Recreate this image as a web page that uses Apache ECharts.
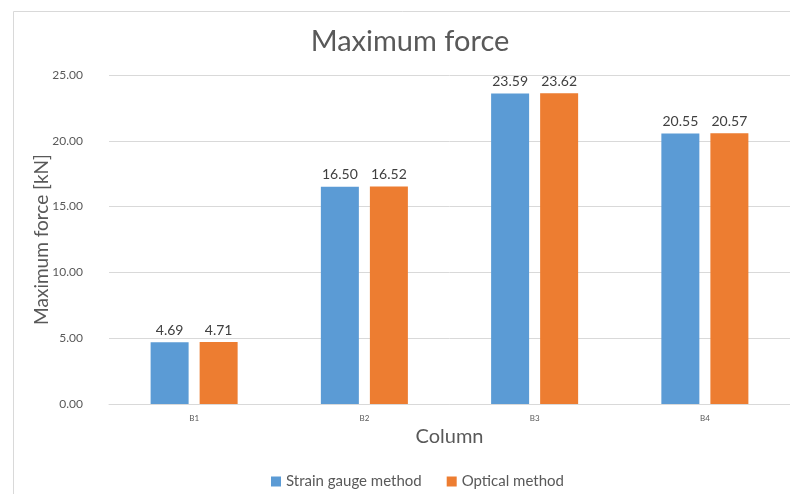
<!DOCTYPE html>
<html>
<head>
<meta charset="utf-8">
<script src="https://cdn.jsdelivr.net/npm/echarts@6/dist/echarts.min.js"></script>
<style>
  html, body { margin: 0; padding: 0; background: #fff; }
  #chart { width: 790px; height: 494px; }
</style>
</head>
<body>
<div id="chart"></div>
<script>
// Column identifiers along the x axis
const columns = ['B1', 'B2', 'B3', 'B4'];
// Maximum force per column, kN
const strainGauge = [4.69, 16.50, 23.59, 20.55];
const optical = [4.71, 16.52, 23.62, 20.57];
// Value axis ticks
const yMin = 0;
const yMax = 25;
const yStep = 5;

const FONT = 'Lato, "Open Sans", sans-serif';

const chart = echarts.init(document.getElementById('chart'));

const labelStyle = {
  show: true,
  position: 'top',
  distance: 5,
  color: '#404040',
  fontSize: 14,
  fontFamily: FONT,
  formatter: p => p.value.toFixed(2)
};

chart.setOption({
  animation: false,
  backgroundColor: '#ffffff',
  graphic: [{
    type: 'rect',
    shape: { x: 13.5, y: 11.5, width: 800, height: 520 },
    style: { fill: 'none', stroke: '#d9d9d9', lineWidth: 1 },
    silent: true,
    z: -1
  }],
  title: {
    text: 'Maximum force',
    left: 405,
    top: 22,
    textAlign: 'center',
    textStyle: { color: '#595959', fontSize: 29, fontWeight: 'normal', fontFamily: FONT }
  },
  legend: {
    top: 469,
    left: 266,
    itemWidth: 10,
    itemHeight: 10,
    itemGap: 25,
    icon: 'rect',
    textStyle: { color: '#595959', fontSize: 15, fontFamily: FONT },
    data: ['Strain gauge method', 'Optical method']
  },
  grid: { left: 109, right: 0, top: 75, bottom: 90, containLabel: false },
  xAxis: {
    type: 'category',
    data: columns,
    name: 'Column',
    nameLocation: 'middle',
    nameGap: 23,
    nameTextStyle: { color: '#595959', fontSize: 20, fontFamily: FONT },
    axisLine: { lineStyle: { color: '#d9d9d9' } },
    axisTick: { show: false },
    axisLabel: { color: '#595959', fontSize: 8, margin: 10, fontFamily: FONT }
  },
  yAxis: {
    type: 'value',
    min: yMin,
    max: yMax,
    interval: yStep,
    name: 'Maximum force [kN]',
    nameLocation: 'middle',
    nameGap: 58,
    nameMoveOverlap: false,
    nameTextStyle: { color: '#595959', fontSize: 19, fontFamily: FONT },
    axisLine: { show: false },
    axisTick: { show: false },
    axisLabel: { color: '#595959', fontSize: 12, margin: 26, fontFamily: FONT, formatter: v => v.toFixed(2) },
    splitLine: { lineStyle: { color: '#d9d9d9' } }
  },
  series: [
    {
      name: 'Strain gauge method',
      type: 'bar',
      data: strainGauge,
      barWidth: 38,
      barGap: '29%',
      itemStyle: { color: '#5b9bd5' },
      label: labelStyle
    },
    {
      name: 'Optical method',
      type: 'bar',
      data: optical,
      barWidth: 38,
      itemStyle: { color: '#ed7d31' },
      label: labelStyle
    }
  ]
});
</script>
</body>
</html>
